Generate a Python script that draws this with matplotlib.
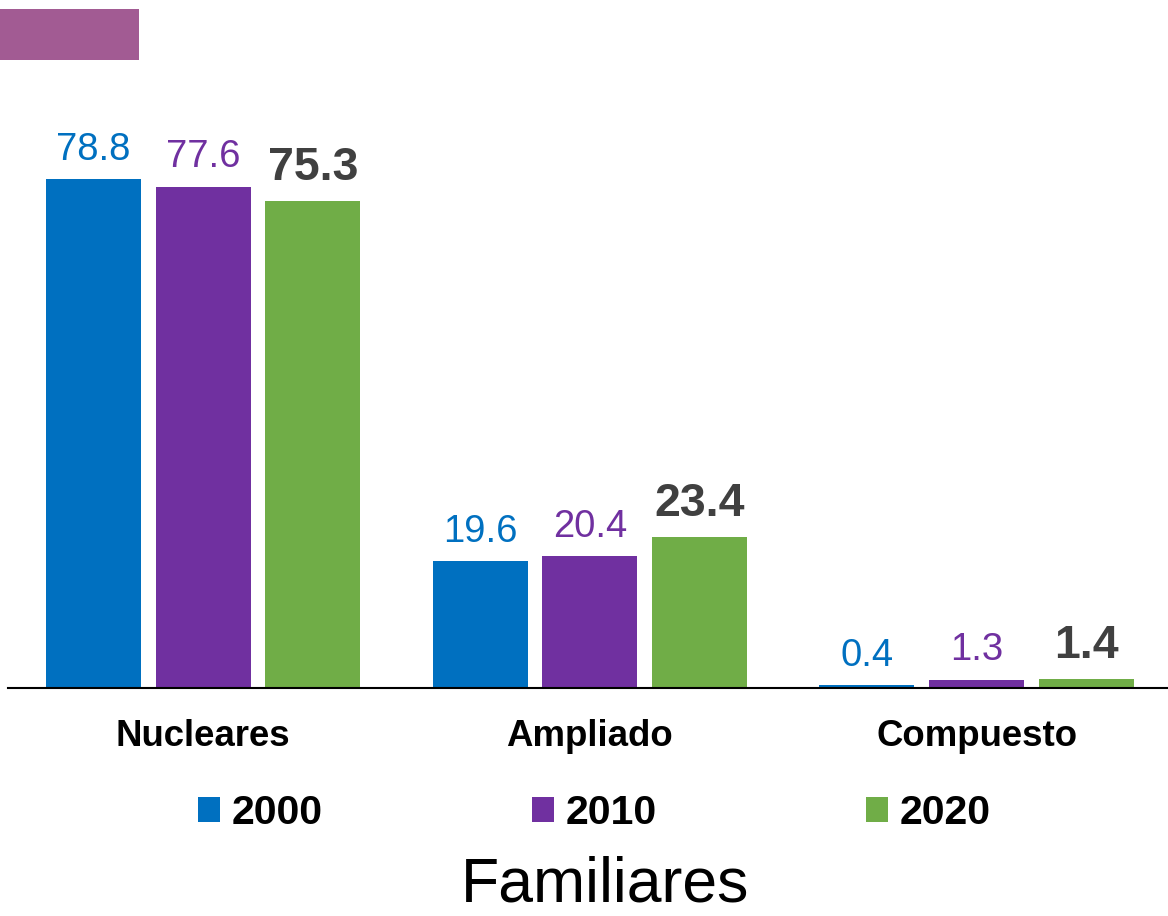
import matplotlib
matplotlib.use("Agg")
import matplotlib.pyplot as plt
from matplotlib.patches import Patch, Rectangle
import numpy as np

plt.rcParams['font.family'] = ['Liberation Sans', 'DejaVu Sans']

categories = ["Nucleares", "Ampliado", "Compuesto"]
years = ["2000", "2010", "2020"]
v2000 = [78.8, 19.6, 0.4]
v2010 = [77.6, 20.4, 1.3]
v2020 = [75.3, 23.4, 1.4]
series = [v2000, v2010, v2020]
colors = ["#0070C0", "#7030A0", "#70AD47"]
label_colors = ["#0070C0", "#7030A0", "#404040"]
label_weights = ["normal", "normal", "bold"]
label_sizes = [27.5, 27.5, 33.5]

fig = plt.figure(figsize=(11.68, 9.16), dpi=100)
ax = fig.add_axes([8/1168, (916-688)/916, 1-8/1168, (688-100)/916])

x = np.arange(len(categories))
width = 0.2455
step = 0.284
for i, vals in enumerate(series):
    pos = x + (i - 1) * step
    bars = ax.bar(pos, vals, width=width, color=colors[i])
    for b, v in zip(bars, vals):
        ax.annotate(f"{v:.1f}", (b.get_x() + b.get_width()/2, v),
                    xytext=(0, 8), textcoords="offset points",
                    ha="center", va="bottom", color=label_colors[i],
                    fontsize=label_sizes[i], fontweight=label_weights[i])

ax.set_xlim(-0.504, 2.494)
ax.set_ylim(0, 91)
ax.set_xticks(x)
ax.set_xticklabels(categories, fontsize=26.4, fontweight="bold")
ax.tick_params(axis="x", length=0, pad=22)
ax.set_yticks([])
for s in ["top", "right", "left"]:
    ax.spines[s].set_visible(False)
ax.spines["bottom"].set_linewidth(1.5)
ax.spines["bottom"].set_color("black")

handles = [Patch(facecolor=c, edgecolor="none") for c in colors]
fig.legend(handles, years, loc="center", bbox_to_anchor=(594.5/1168, (916-813)/916),
           ncol=3, frameon=False, prop={"size": 29.5, "weight": "bold"},
           handlelength=0.54, handleheight=0.54, handletextpad=0.29,
           columnspacing=5.1, borderpad=0, borderaxespad=0)

fig.text(605/1168, (916-901)/916, "Familiares", ha="center", va="baseline", fontsize=45)

fig.patches.append(Rectangle((0, (916-60)/916), 139/1168, 51/916,
                             transform=fig.transFigure, facecolor="#A25B93",
                             edgecolor="none"))

fig.savefig("out.png", dpi=100)
